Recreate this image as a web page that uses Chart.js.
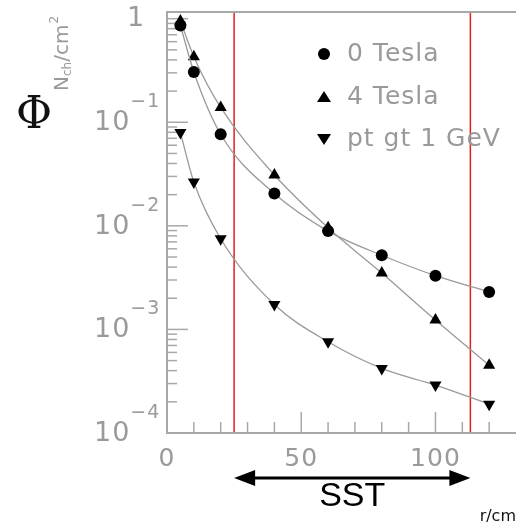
<!DOCTYPE html>
<html>
<head>
<meta charset="utf-8">
<script src="https://cdn.jsdelivr.net/npm/chart.js@4.4.0/dist/chart.umd.min.js"></script>
<style>
  html, body { margin: 0; padding: 0; background: #fff; }
  #wrap { width: 516px; height: 526px; position: relative; }
</style>
</head>
<body>
<div id="wrap"><canvas id="fluxChart" width="516" height="526"></canvas></div>
<script>
// radius in cm and fluence per bunch crossing
const radius   = [5, 10, 20, 40, 60, 80, 100, 120];
const tesla0   = [0.86, 0.306, 0.0766, 0.0205, 0.0089, 0.0052, 0.0033, 0.0023];
const tesla4   = [0.95, 0.43, 0.139, 0.031, 0.0096, 0.0035, 0.00123, 0.00045];
const ptGt1    = [0.0795, 0.0265, 0.0075, 0.00174, 0.00076, 0.00042, 0.00029, 0.00019];
const seriesNames = ['0 Tesla', '4 Tesla', 'pt gt 1 GeV'];

const xMajor = [0, 50, 100];
const xMinor = [10, 20, 30, 40, 60, 70, 80, 90, 110, 120];
const yDecades = [1e-4, 1e-3, 1e-2, 1e-1, 1];
const yBase = ['10', '10', '10', '10', '1'];
const yExp  = ['\u22124', '\u22123', '\u22122', '\u22121', ''];
const sstRange = [25, 113];

const AXIS = '#a8a8a8';
const TXT  = '#9a9a9a';

const toPts = ys => radius.map((r, i) => ({ x: r, y: ys[i] }));

const decorPlugin = {
  id: 'decor',
  beforeDatasetsDraw(chart) {
    const { ctx, chartArea: a, scales: { x, y } } = chart;
    ctx.save();
    // red SST boundaries
    ctx.strokeStyle = '#e02020';
    ctx.lineWidth = 1.5;
    sstRange.forEach(v => {
      const px = x.getPixelForValue(v);
      ctx.beginPath(); ctx.moveTo(px, a.top); ctx.lineTo(px, a.bottom); ctx.stroke();
    });
    // axis frame
    ctx.strokeStyle = AXIS;
    ctx.lineWidth = 2;
    ctx.beginPath();
    ctx.moveTo(a.right, a.top); ctx.lineTo(a.left, a.top);
    ctx.lineTo(a.left, a.bottom); ctx.lineTo(a.right, a.bottom);
    ctx.stroke();
    ctx.lineWidth = 1.5;
    // y ticks (inward)
    yDecades.forEach((d, i) => {
      const py = y.getPixelForValue(d);
      ctx.beginPath(); ctx.moveTo(a.left, py); ctx.lineTo(a.left + 21, py); ctx.stroke();
      if (i < yDecades.length - 1) {
        for (let k = 2; k <= 9; k++) {
          const p = y.getPixelForValue(d * k);
          ctx.beginPath(); ctx.moveTo(a.left, p); ctx.lineTo(a.left + 10, p); ctx.stroke();
        }
      }
    });
    // x ticks (inward)
    xMajor.forEach(v => {
      const px = x.getPixelForValue(v);
      ctx.beginPath(); ctx.moveTo(px, a.bottom); ctx.lineTo(px, a.bottom - 21); ctx.stroke();
    });
    xMinor.forEach(v => {
      const px = x.getPixelForValue(v);
      ctx.beginPath(); ctx.moveTo(px, a.bottom); ctx.lineTo(px, a.bottom - 11); ctx.stroke();
    });
    // y tick labels: "10" with superscript exponent
    ctx.fillStyle = TXT;
    ctx.textBaseline = 'middle';
    ctx.textAlign = 'left';
    ctx.letterSpacing = '1px';
    yDecades.forEach((d, i) => {
      const py = y.getPixelForValue(d);
      ctx.font = '27px "DejaVu Sans"';
      if (yExp[i]) {
        ctx.fillText(yBase[i], 94, py + 1);
        const w = ctx.measureText(yBase[i]).width;
        ctx.font = '19px "DejaVu Sans"';
        ctx.fillText(yExp[i], 94 + w, py - 20);
      } else {
        ctx.fillText(yBase[i], 127, py);
      }
    });
    // x tick labels
    ctx.font = '25px "DejaVu Sans"';
    ctx.textAlign = 'center';
    xMajor.forEach(v => ctx.fillText(String(v), x.getPixelForValue(v), 459));
    ctx.letterSpacing = '0px';
    // axis titles
    ctx.fillStyle = '#111';
    ctx.font = '44px "DejaVu Serif"';
    ctx.fillText('\u03A6', 34, 117);
    ctx.save();
    ctx.translate(63, 52);
    ctx.rotate(-Math.PI / 2);
    ctx.fillStyle = TXT;
    ctx.textAlign = 'left';
    ctx.font = '20px "DejaVu Sans"';
    let tx = -39;
    ctx.fillText('N', tx, 0); tx += ctx.measureText('N').width;
    ctx.font = '12px "DejaVu Sans"';
    ctx.fillText('ch', tx, 5); tx += ctx.measureText('ch').width;
    ctx.font = '20px "DejaVu Sans"';
    ctx.fillText('/cm', tx, 0); tx += ctx.measureText('/cm').width;
    ctx.font = '12px "DejaVu Sans"';
    ctx.fillText('2', tx + 1, -8);
    ctx.restore();
    ctx.font = '16px "DejaVu Sans"';
    ctx.textAlign = 'right';
    ctx.fillText('r/cm', 516, 517);
    // SST arrow
    const x1 = x.getPixelForValue(sstRange[0]), x2 = x.getPixelForValue(sstRange[1]);
    const ay = 478;
    ctx.strokeStyle = '#000'; ctx.fillStyle = '#000'; ctx.lineWidth = 3;
    ctx.beginPath(); ctx.moveTo(x1 + 15, ay); ctx.lineTo(x2 - 15, ay); ctx.stroke();
    ctx.beginPath(); ctx.moveTo(x1, ay); ctx.lineTo(x1 + 21, ay - 8); ctx.lineTo(x1 + 21, ay + 8); ctx.closePath(); ctx.fill();
    ctx.beginPath(); ctx.moveTo(x2, ay); ctx.lineTo(x2 - 21, ay - 8); ctx.lineTo(x2 - 21, ay + 8); ctx.closePath(); ctx.fill();
    ctx.font = '34px "Liberation Sans"';
    ctx.textAlign = 'center';
    ctx.fillText('SST', (x1 + x2) / 2, 497);
    ctx.restore();
  },
  afterDatasetsDraw(chart) {
    const { ctx } = chart;
    ctx.save();
    const rows = [54, 97, 139];
    const mx = 324;
    ctx.fillStyle = '#000';
    // legend markers
    ctx.beginPath(); ctx.arc(mx, rows[0], 6, 0, Math.PI * 2); ctx.fill();
    ctx.beginPath(); ctx.moveTo(mx, rows[1] - 6); ctx.lineTo(mx + 7, rows[1] + 5); ctx.lineTo(mx - 7, rows[1] + 5); ctx.closePath(); ctx.fill();
    ctx.beginPath(); ctx.moveTo(mx, rows[2] + 6); ctx.lineTo(mx + 7, rows[2] - 5); ctx.lineTo(mx - 7, rows[2] - 5); ctx.closePath(); ctx.fill();
    ctx.fillStyle = TXT;
    ctx.font = '25px "DejaVu Sans"';
    ctx.letterSpacing = '1px';
    ctx.textAlign = 'left';
    ctx.textBaseline = 'middle';
    seriesNames.forEach((n, i) => ctx.fillText(n, 347, rows[i]));
    ctx.restore();
  }
};

const common = {
  showLine: true,
  borderColor: '#9a9a9a',
  borderWidth: 1.3,
  cubicInterpolationMode: 'monotone',
  pointBackgroundColor: '#000',
  pointBorderColor: '#000',
  pointBorderWidth: 0,
  clip: false
};

new Chart(document.getElementById('fluxChart'), {
  type: 'scatter',
  data: {
    datasets: [
      { ...common, label: seriesNames[0], data: toPts(tesla0), pointStyle: 'circle', pointRadius: 6 },
      { ...common, label: seriesNames[1], data: toPts(tesla4), pointStyle: 'triangle', pointRadius: 7 },
      { ...common, label: seriesNames[2], data: toPts(ptGt1), pointStyle: 'triangle', rotation: 180, pointRadius: 7 }
    ]
  },
  options: {
    responsive: false,
    animation: false,
    layout: { autoPadding: false, padding: { left: 167, top: 12, right: 0, bottom: 93 } },
    plugins: { legend: { display: false }, tooltip: { enabled: false } },
    scales: {
      x: { type: 'linear', display: false, min: 0, max: 130 },
      y: { type: 'logarithmic', display: false, min: 1e-4, max: 1.16 }
    }
  },
  plugins: [decorPlugin]
});
</script>
</body>
</html>
